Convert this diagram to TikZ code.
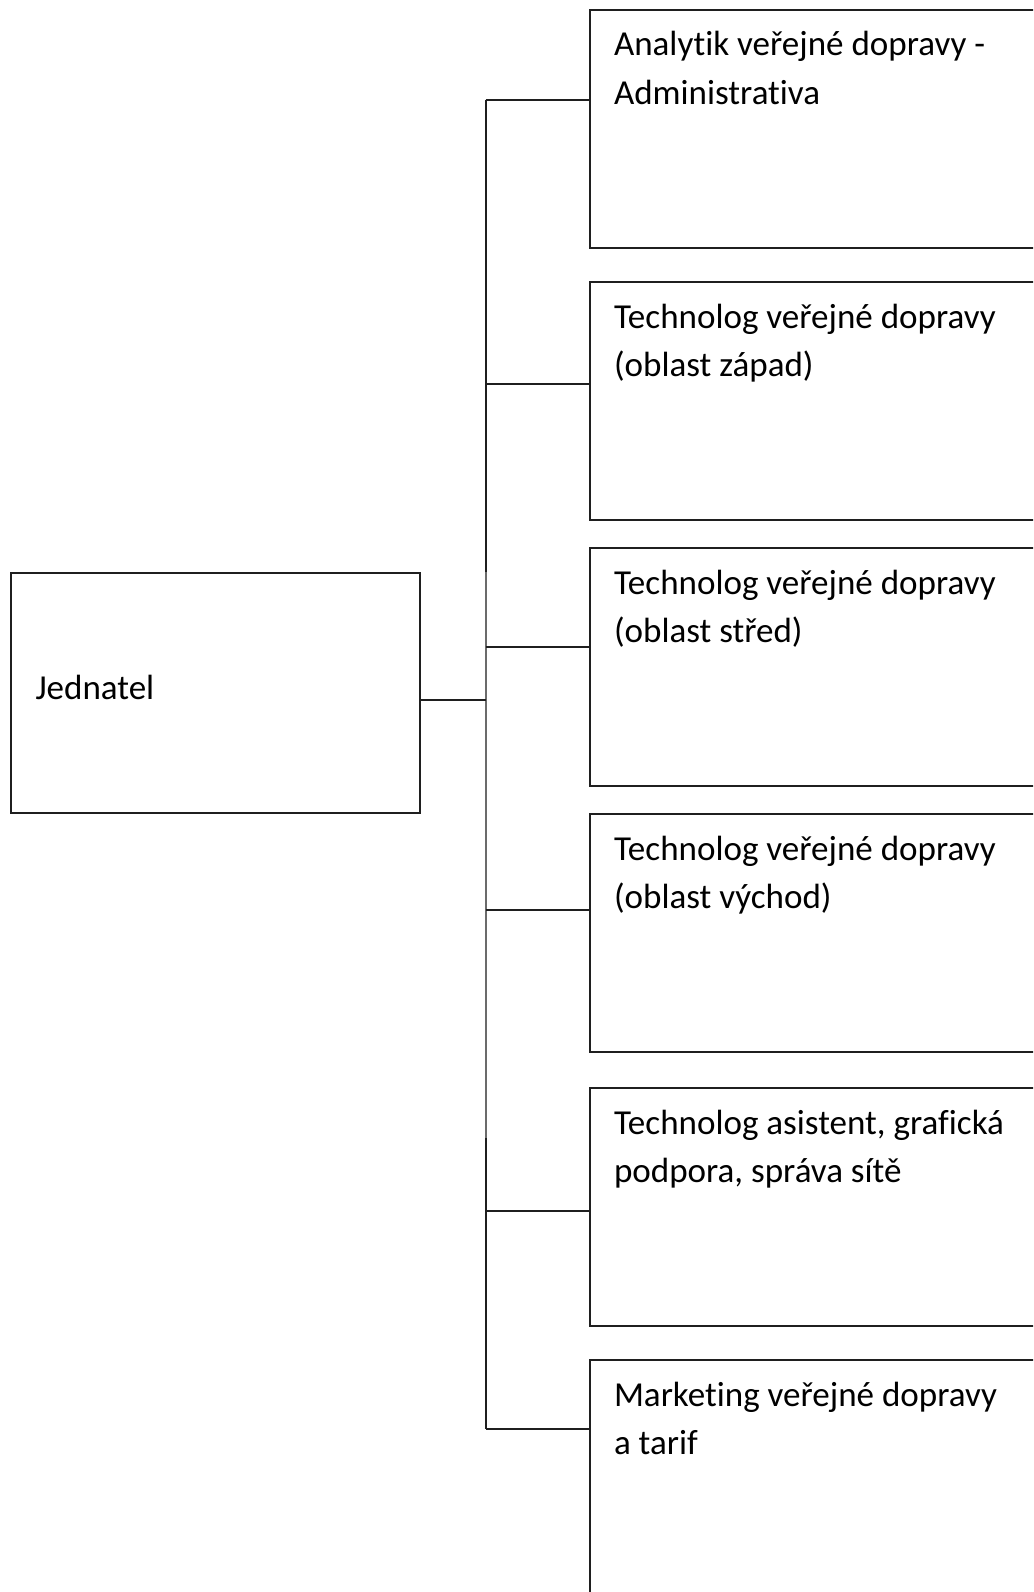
\documentclass[tikz,border=0pt]{standalone}
\usepackage{fontspec}
\setmainfont{Carlito}[Ligatures=NoCommon]
\usetikzlibrary{calc}
\begin{document}
\begin{tikzpicture}[x=1pt,y=-1pt,
  line width=2pt,
  frame/.style={draw=black!88, rectangle, anchor=north west, inner sep=0pt},
  role/.style={frame, minimum width=470pt, minimum height=#1},
  role/.default=238pt,
  caption/.style={anchor=north west, inner sep=0pt, align=left,
    font=\fontsize{35.05}{48.5}\selectfont, text=black},
  wire/.style={draw=black!88, line width=2pt},
  faintwire/.style={draw=black!58, line width=2pt}]
\useasboundingbox (0,0) rectangle (1033,1592);
\clip (0,0) rectangle (1033,1592);

% Head of the company
\node[frame, minimum width=409pt, minimum height=240pt] (head) at (10,572) {};
\node[anchor=base west, inner sep=0pt, font=\fontsize{35.05}{48.5}\selectfont] (headtxt) at (34.5,699) {Jednatel};

% Subordinate positions
\node[role] (r1) at (589,9) {};
\node[role] (r2) at (589,281) {};
\node[role] (r3) at (589,547) {};
\node[role] (r4) at (589,813) {};
\node[role] (r5) at (589,1087) {};
\node[role=300pt] (r6) at (589,1359) {};

\node[caption] (t1) at ($(r1.north west)+(24,16)$) {\rule{0pt}{30pt}Analytik veřejné dopravy -\\Administrativa};
\node[caption] (t2) at ($(r2.north west)+(24,16)$) {\rule{0pt}{30pt}Technolog veřejné dopravy\\(oblast západ)};
\node[caption] (t3) at ($(r3.north west)+(24,16)$) {\rule{0pt}{30pt}Technolog veřejné dopravy\\(oblast střed)};
\node[caption] (t4) at ($(r4.north west)+(24,16)$) {\rule{0pt}{30pt}Technolog veřejné dopravy\\(oblast východ)};
\node[caption] (t5) at ($(r5.north west)+(24,16)$) {\rule{0pt}{30pt}Technolog asistent, grafická\\podpora, správa sítě};
\node[caption] (t6) at ($(r6.north west)+(24,16)$) {\rule{0pt}{30pt}Marketing veřejné dopravy\\a tarif};

% Branch points on the trunk
\coordinate (b0) at (485.5,700);
\coordinate (b1) at (485.5,100.5);
\coordinate (b2) at (485.5,384);
\coordinate (b3) at (485.5,647);
\coordinate (b4) at (485.5,910);
\coordinate (b5) at (485.5,1211);
\coordinate (b6) at (485.5,1429);
\coordinate (g1) at (485.5,572);
\coordinate (g2) at (485.5,1138);

% Trunk
\draw[wire] (b1) -- (g1);
\draw[faintwire] (g1) -- (g2);
\draw[wire] (g2) -- (b6);

% Connectors
\draw[wire] (head.east |- b0) -- (b0);
\draw[wire] (b1) -- (r1.west |- b1);
\draw[wire] (b2) -- (r2.west |- b2);
\draw[wire] (b3) -- (r3.west |- b3);
\draw[wire] (b4) -- (r4.west |- b4);
\draw[wire] (b5) -- (r5.west |- b5);
\draw[wire] (b6) -- (r6.west |- b6);
\end{tikzpicture}
\end{document}
